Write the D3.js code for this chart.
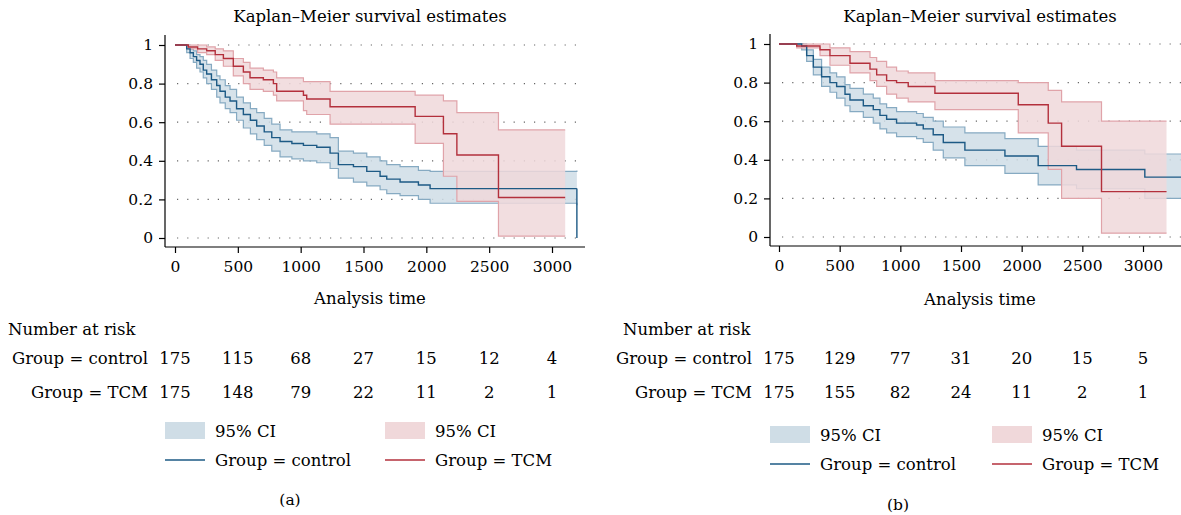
<!DOCTYPE html>
<html><head><meta charset="utf-8">
<script src="https://cdn.jsdelivr.net/npm/d3@7.9.0/dist/d3.min.js"></script>
<style>body{margin:0;background:#fff}svg{font-family:"DejaVu Serif",serif}</style>
</head><body>
<svg id="chart" width="1181" height="515"></svg>
<script>
// panel (a) data
const ctrlA_t = [0, 93, 120, 146, 172, 199, 225, 252, 290, 332, 358, 400, 438, 490, 544, 600, 650, 710, 770, 836, 930, 1022, 1128, 1234, 1300, 1420, 1526, 1632, 1685, 1791, 1937, 2030, 3198];
const ctrlA_s = [1, 0.98, 0.96, 0.94, 0.92, 0.90, 0.87, 0.85, 0.82, 0.79, 0.76, 0.73, 0.71, 0.67, 0.64, 0.61, 0.58, 0.55, 0.52, 0.50, 0.49, 0.48, 0.47, 0.44, 0.38, 0.37, 0.345, 0.32, 0.305, 0.29, 0.275, 0.256, 0.256];
const ctrlA_lo = [1, 0.96, 0.93, 0.91, 0.88, 0.86, 0.83, 0.80, 0.77, 0.73, 0.70, 0.67, 0.65, 0.61, 0.57, 0.54, 0.51, 0.48, 0.45, 0.42, 0.41, 0.40, 0.39, 0.36, 0.31, 0.29, 0.27, 0.25, 0.23, 0.22, 0.20, 0.18, 0.17];
const ctrlA_hi = [1, 1, 0.98, 0.97, 0.95, 0.94, 0.92, 0.90, 0.87, 0.84, 0.82, 0.79, 0.77, 0.73, 0.70, 0.67, 0.65, 0.62, 0.59, 0.56, 0.55, 0.55, 0.54, 0.52, 0.45, 0.44, 0.42, 0.40, 0.38, 0.37, 0.35, 0.345, 0.35];
const tcmA_t = [0, 106, 180, 252, 320, 385, 464, 544, 597, 703, 783, 809, 1022, 1048, 1234, 1911, 2136, 2243, 2574, 3105];
const tcmA_s = [1, 0.99, 0.98, 0.97, 0.95, 0.93, 0.89, 0.86, 0.83, 0.82, 0.80, 0.76, 0.74, 0.72, 0.68, 0.63, 0.54, 0.43, 0.21, 0.21];
const tcmA_lo = [1, 0.98, 0.96, 0.95, 0.92, 0.89, 0.84, 0.80, 0.77, 0.76, 0.74, 0.71, 0.66, 0.64, 0.59, 0.49, 0.32, 0.19, 0.01, 0.01];
const tcmA_hi = [1, 1, 1, 0.99, 0.98, 0.97, 0.93, 0.91, 0.88, 0.87, 0.86, 0.83, 0.81, 0.81, 0.76, 0.74, 0.71, 0.65, 0.56, 0.56];
// panel (b) data
const ctrlB_t = [0, 187, 228, 283, 351, 420, 475, 544, 585, 695, 777, 832, 887, 969, 1134, 1189, 1271, 1354, 1532, 1862, 2136, 2452, 3015, 3400];
const ctrlB_s = [1, 0.99, 0.94, 0.88, 0.83, 0.80, 0.78, 0.74, 0.71, 0.68, 0.66, 0.63, 0.61, 0.59, 0.58, 0.56, 0.53, 0.49, 0.45, 0.42, 0.37, 0.35, 0.31, 0.31];
const ctrlB_lo = [1, 0.97, 0.91, 0.84, 0.78, 0.75, 0.72, 0.68, 0.65, 0.62, 0.59, 0.56, 0.54, 0.52, 0.51, 0.49, 0.45, 0.41, 0.37, 0.33, 0.27, 0.25, 0.20, 0.20];
const ctrlB_hi = [1, 1, 0.97, 0.92, 0.88, 0.85, 0.83, 0.79, 0.77, 0.74, 0.72, 0.69, 0.67, 0.65, 0.64, 0.62, 0.60, 0.57, 0.54, 0.51, 0.47, 0.45, 0.43, 0.43];
const tcmB_t = [0, 146, 338, 420, 585, 750, 805, 887, 969, 1065, 1285, 1972, 2219, 2329, 2658, 3194];
const tcmB_s = [1, 0.99, 0.97, 0.94, 0.90, 0.87, 0.84, 0.81, 0.80, 0.78, 0.745, 0.685, 0.59, 0.47, 0.235, 0.235];
const tcmB_lo = [1, 0.98, 0.94, 0.89, 0.85, 0.81, 0.78, 0.74, 0.72, 0.70, 0.66, 0.54, 0.35, 0.20, 0.02, 0.02];
const tcmB_hi = [1, 1, 1, 0.98, 0.96, 0.93, 0.91, 0.88, 0.86, 0.85, 0.81, 0.80, 0.76, 0.70, 0.60, 0.60];
// risk tables
const riskTimes = [0, 500, 1000, 1500, 2000, 2500, 3000];
const riskCtrlA = [175, 115, 68, 27, 15, 12, 4];
const riskTcmA = [175, 148, 79, 22, 11, 2, 1];
const riskCtrlB = [175, 129, 77, 31, 20, 15, 5];
const riskTcmB = [175, 155, 82, 24, 11, 2, 1];
const xTicks = [0, 500, 1000, 1500, 2000, 2500, 3000];
const yTicks = [0, 0.2, 0.4, 0.6, 0.8, 1];

const blue = {line: '#1d5a85', fill: '#cfdde6', edge: '#86aac2'};
const red = {line: '#b3303c', fill: '#f0d8da', edge: '#e0a3a9'};
const FS = 15.5;
const svg = d3.select('#chart');

function zip(t, a) { return t.map((v, i) => [v, a[i]]); }

function drawPanel(o) {
  const x = d3.scaleLinear().domain([0, o.xmax]).range([o.x0, o.x1]);
  const y = d3.scaleLinear().domain([0, 1]).range([o.y0, o.y1]);
  const g = svg.append('g');
  const clip = 'clip' + o.id;
  g.append('clipPath').attr('id', clip).append('rect')
    .attr('x', o.ax).attr('y', 20).attr('width', o.right - o.ax).attr('height', 240);
  // grid
  g.selectAll('.grid').data(yTicks).enter().append('line')
    .attr('x1', o.ax + 12).attr('x2', o.right).attr('y1', d => y(d)).attr('y2', d => y(d))
    .attr('stroke', '#666').attr('stroke-dasharray', '1.2,9').attr('stroke-width', 1.2);
  const pg = g.append('g').attr('clip-path', `url(#${clip})`);
  const area = d3.area().curve(d3.curveStepAfter).x(d => x(d[0])).y0(d => y(d[1])).y1(d => y(d[2]));
  const line = d3.line().curve(d3.curveStepAfter).x(d => x(d[0])).y(d => y(d[1]));
  o.series.forEach(s => {
    const band = s.t.map((v, i) => [v, s.lo[i], s.hi[i]]);
    pg.append('path').attr('d', area(band)).attr('fill', s.c.fill).attr('fill-opacity', 0.85);
    pg.append('path').attr('d', line(zip(s.t, s.lo))).attr('fill', 'none').attr('stroke', s.c.edge).attr('stroke-width', 1.2);
    pg.append('path').attr('d', line(zip(s.t, s.hi))).attr('fill', 'none').attr('stroke', s.c.edge).attr('stroke-width', 1.2);
  });
  o.series.forEach(s => {
    pg.append('path').attr('d', line(zip(s.t, s.s))).attr('fill', 'none').attr('stroke', s.c.line).attr('stroke-width', 1.4);
    if (s.dropToZero) {
      const lt = s.t[s.t.length - 1];
      pg.append('line').attr('x1', x(lt)).attr('x2', x(lt)).attr('y1', y(s.s[s.s.length - 1])).attr('y2', y(0))
        .attr('stroke', s.c.line).attr('stroke-width', 1.4);
    }
  });
  // axes
  const xa = g.append('g').attr('transform', `translate(0,${o.axY})`)
    .call(d3.axisBottom(x).tickValues(xTicks).tickSize(6).tickPadding(8).tickFormat(d3.format('d')));
  xa.select('.domain').attr('d', `M${o.ax},0H${o.right}`);
  const ya = g.append('g').attr('transform', `translate(${o.ax},0)`)
    .call(d3.axisLeft(y).tickValues(yTicks).tickSize(6).tickPadding(6).tickFormat(d => d3.format('')(d)));
  ya.select('.domain').attr('d', `M0,${y(1) - 10}V${o.axY}`);
  [xa, ya].forEach(a => a.selectAll('text').attr('font-size', FS).attr('font-family', '"DejaVu Serif",serif').attr('fill', '#000'));
  g.selectAll('.domain, .tick line').attr('stroke', '#000').attr('stroke-width', 1.2);
  g.append('text').attr('x', o.titleX).attr('y', 22).attr('text-anchor', 'middle').attr('font-size', FS + 1).text('Kaplan–Meier survival estimates');
  g.append('text').attr('x', o.titleX).attr('y', o.atY).attr('text-anchor', 'middle').attr('font-size', FS + 1).text('Analysis time');
  // risk table
  g.append('text').attr('x', o.nrX).attr('y', o.rY[0]).attr('font-size', FS + 1).text('Number at risk');
  [['Group = control', o.riskC], ['Group = TCM', o.riskT]].forEach(([lab, vals], k) => {
    g.append('text').attr('x', o.labX).attr('y', o.rY[k + 1]).attr('text-anchor', 'end').attr('font-size', FS + 1).text(lab);
    g.selectAll(null).data(vals).enter().append('text')
      .attr('x', (d, i) => x(riskTimes[i])).attr('y', o.rY[k + 1]).attr('text-anchor', 'middle').attr('font-size', FS + 1).text(d => d);
  });
  // legend
  [[blue, o.lgX[0], 'Group = control'], [red, o.lgX[1], 'Group = TCM']].forEach(([c, lx, lab]) => {
    g.append('rect').attr('x', lx).attr('y', o.lgY - 9).attr('width', 40).attr('height', 17).attr('fill', c.fill);
    g.append('text').attr('x', lx + 50).attr('y', o.lgY + 6).attr('font-size', FS + 1).text('95% CI');
    g.append('line').attr('x1', lx).attr('x2', lx + 40).attr('y1', o.lgY + 29).attr('y2', o.lgY + 29).attr('stroke', c.line).attr('stroke-width', 1.4);
    g.append('text').attr('x', lx + 50).attr('y', o.lgY + 35).attr('font-size', FS + 1).text(lab);
  });
  g.append('text').attr('x', o.capX).attr('y', o.capY).attr('text-anchor', 'middle').attr('font-size', FS).text(o.cap);
}

drawPanel({id: 'a', xmax: 3000, x0: 175, x1: 552, y0: 238, y1: 45, ax: 165, right: 585, axY: 247,
  titleX: 370, atY: 304, nrX: 8, labX: 148, rY: [335, 364, 398], riskC: riskCtrlA, riskT: riskTcmA,
  lgX: [165, 385], lgY: 431, capX: 290, capY: 505, cap: '(a)',
  series: [
    {t: ctrlA_t, s: ctrlA_s, lo: ctrlA_lo, hi: ctrlA_hi, c: blue, dropToZero: true},
    {t: tcmA_t, s: tcmA_s, lo: tcmA_lo, hi: tcmA_hi, c: red}
  ]});
drawPanel({id: 'b', xmax: 3000, x0: 779, x1: 1143, y0: 237, y1: 44, ax: 770, right: 1181, axY: 246,
  titleX: 980, atY: 305, nrX: 623, labX: 752, rY: [335, 364, 398], riskC: riskCtrlB, riskT: riskTcmB,
  lgX: [770, 992], lgY: 435, capX: 898, capY: 510, cap: '(b)',
  series: [
    {t: ctrlB_t, s: ctrlB_s, lo: ctrlB_lo, hi: ctrlB_hi, c: blue},
    {t: tcmB_t, s: tcmB_s, lo: tcmB_lo, hi: tcmB_hi, c: red}
  ]});
</script>
</body></html>
